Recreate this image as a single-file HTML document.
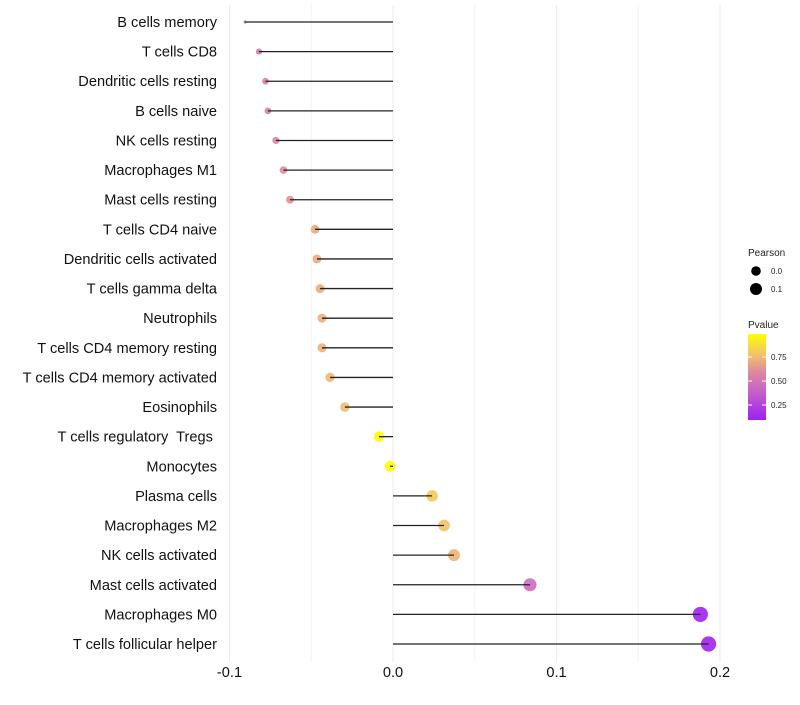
<!DOCTYPE html>
<html><head><meta charset="utf-8"><style>
body{margin:0;background:#fff;font-family:"Liberation Sans",sans-serif}
svg text{font-family:"Liberation Sans",sans-serif;white-space:pre}
</style></head><body>
<svg id="chart" width="800" height="700">
<g id="grid"></g>
<g id="marks"></g>
<g id="ylabels"></g>
<g id="xlabels"></g>
<g>
<text x="748" y="256" font-size="10" fill="#222">Pearson</text>
<circle cx="756" cy="271" r="4.8" fill="#000"/>
<text x="771" y="274" font-size="8" fill="#222">0.0</text>
<circle cx="756" cy="289" r="6" fill="#000"/>
<text x="771" y="292" font-size="8" fill="#222">0.1</text>
</g>
<g>
<defs><linearGradient id="pg" x1="0" y1="1" x2="0" y2="0">
<stop offset="0" stop-color="rgb(160,32,240)"/>
<stop offset="0.35" stop-color="rgb(200,100,200)"/>
<stop offset="0.55" stop-color="rgb(220,135,160)"/>
<stop offset="0.75" stop-color="rgb(242,190,110)"/>
<stop offset="1" stop-color="rgb(255,255,0)"/>
</linearGradient></defs>
<text x="748" y="328" font-size="10" fill="#222">Pvalue</text>
<rect x="748" y="334" width="18" height="86" fill="url(#pg)"/>
<g stroke="#fff" stroke-width="1"><line x1="748" x2="752" y1="357" y2="357"/><line x1="762" x2="766" y1="357" y2="357"/><line x1="748" x2="752" y1="381" y2="381"/><line x1="762" x2="766" y1="381" y2="381"/><line x1="748" x2="752" y1="405" y2="405"/><line x1="762" x2="766" y1="405" y2="405"/></g>
<text x="771" y="360" font-size="8" fill="#222">0.75</text>
<text x="771" y="384" font-size="8" fill="#222">0.50</text>
<text x="771" y="408" font-size="8" fill="#222">0.25</text>
</g>
</svg>
<script>
const categories=["B cells memory","T cells CD8","Dendritic cells resting","B cells naive","NK cells resting","Macrophages M1","Mast cells resting","T cells CD4 naive","Dendritic cells activated","T cells gamma delta","Neutrophils","T cells CD4 memory resting","T cells CD4 memory activated","Eosinophils","T cells regulatory  Tregs ","Monocytes","Plasma cells","Macrophages M2","NK cells activated","Mast cells activated","Macrophages M0","T cells follicular helper"];
const pearson=[-0.0905,-0.082,-0.078,-0.0765,-0.0716,-0.067,-0.063,-0.0477,-0.0465,-0.0446,-0.0434,-0.0434,-0.0385,-0.0294,-0.0086,-0.0018,0.0239,0.0312,0.0373,0.0838,0.188,0.193];
const pvalue=[0.5,0.52,0.54,0.55,0.58,0.6,0.63,0.7,0.7,0.71,0.72,0.72,0.74,0.76,0.97,0.99,0.8,0.78,0.73,0.45,0.1,0.094];
const xTicks=[-0.1,0.0,0.1,0.2];
const xTickLabels=["-0.1","0.0","0.1","0.2"];
const xMinor=[-0.05,0.05,0.15];
const NS="http://www.w3.org/2000/svg";
const X=v=>393+v*1635;
const Y=i=>22+i*(622/21);
const pmin=0.094,pmax=0.99;
const stops=[[0,[160,32,240]],[0.35,[200,100,200]],[0.55,[220,135,160]],[0.75,[242,190,110]],[1,[255,255,0]]];
function col(p){let t=Math.max(0,Math.min(1,(p-pmin)/(pmax-pmin)));for(let k=1;k<stops.length;k++){if(t<=stops[k][0]){const a=stops[k-1],b=stops[k];const f=(t-a[0])/(b[0]-a[0]);const c=a[1].map((v,j)=>Math.round(v+(b[1][j]-v)*f));return `rgb(${c})`;}}return "rgb(255,255,0)";}
const vmin=Math.min(...pearson),vmax=Math.max(...pearson);
const R=v=>1.6+6*Math.pow((v-vmin)/(vmax-vmin),0.4);
function mk(t,a,p){const e=document.createElementNS(NS,t);for(const k in a)e.setAttribute(k,a[k]);p.appendChild(e);return e;}
const grid=document.getElementById('grid'),marks=document.getElementById('marks'),yl=document.getElementById('ylabels'),xl=document.getElementById('xlabels');
xMinor.forEach(v=>{const l=mk('line',{x1:X(v),x2:X(v),y1:5,y2:662,stroke:'#f3f3f3','stroke-width':1},grid);

});
xTicks.forEach((v,i)=>{const l=mk('line',{x1:X(v),x2:X(v),y1:5,y2:662,stroke:'#ebebeb','stroke-width':1},grid);


const t=mk('text',{x:X(v),y:677,'font-size':14.6,'text-anchor':'middle',fill:'#111'},xl);t.textContent=xTickLabels[i];

});
categories.forEach((c,i)=>{const y=Y(i);
const t=mk('text',{x:217,y:y+5,'font-size':14.6,'text-anchor':'end',fill:'#111'},yl);t.textContent=c;


const d=mk('circle',{cx:X(pearson[i]),cy:y,r:R(pearson[i]),fill:col(pvalue[i]),'fill-opacity':0.9},marks);


const l=mk('line',{x1:X(0),x2:X(pearson[i]),y1:y,y2:y,stroke:'#222','stroke-width':1.3},marks);

});
</script>
</body></html>
